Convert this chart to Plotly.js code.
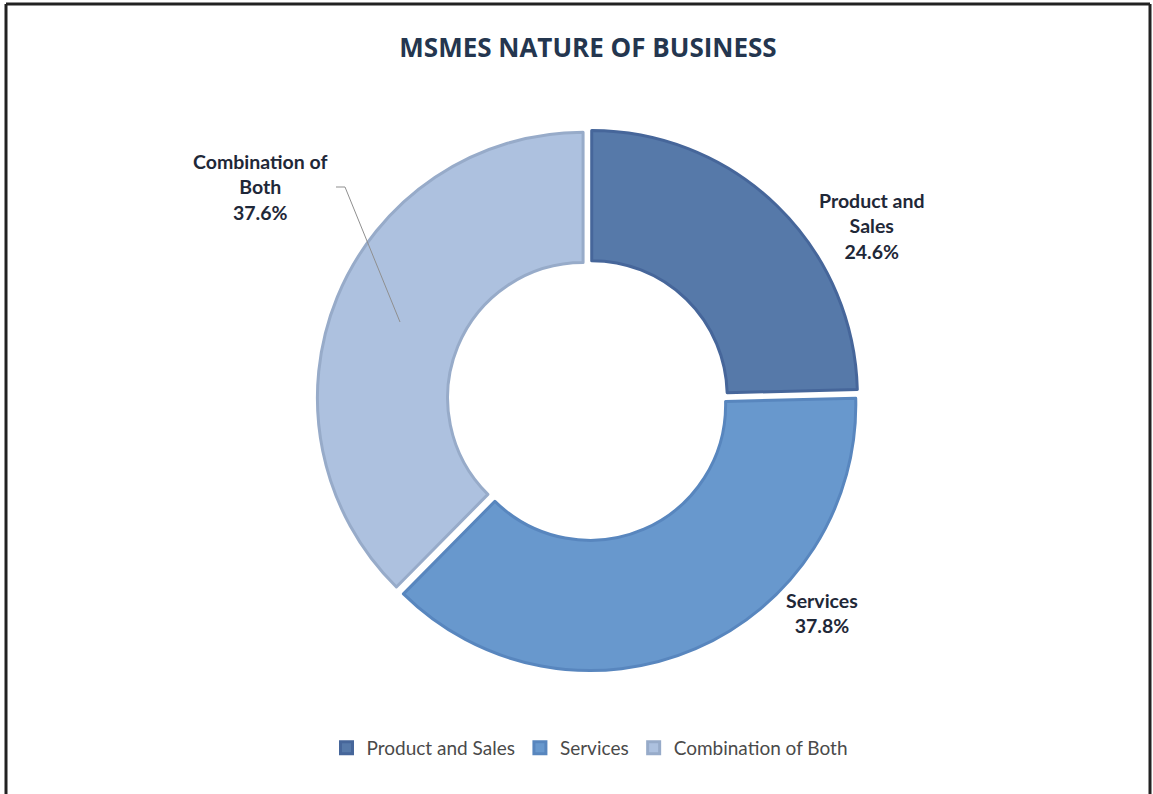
<!DOCTYPE html>
<html>
<head>
<meta charset="utf-8">
<script src="https://cdn.plot.ly/plotly-3.0.1.min.js"></script>
<style>
  html, body { margin: 0; padding: 0; background: #ffffff; }
  #chart { width: 1153px; height: 794px; }
</style>
</head>
<body>
<div id="chart"></div>
<script>
// ---- data ----
const categories = ["Product and Sales", "Services", "Combination of Both"];
const shares = [24.6, 37.8, 37.6];
const labelLines = [["Product and", "Sales"], ["Services"], ["Combination of", "Both"]];
const chartTitle = "MSMES NATURE OF BUSINESS";

// ---- styles ----
const fillColors = ["#5679a9", "#6898cd", "#adc1df"];
const edgeColors = ["#46669a", "#5886be", "#97abc9"];
const labelPos = [
  { x: 872 / 1153, y: 1 - 226 / 794 },
  { x: 822 / 1153, y: 1 - 613 / 794 },
  { x: 260 / 1153, y: 1 - 187 / 794 }
];

const cx = 588, cy = 400, R = 271;
const W = 1153, H = 794;

const trace = {
  type: "pie",
  labels: categories,
  values: shares,
  hole: 0.51,
  sort: false,
  direction: "clockwise",
  rotation: 0,
  pull: [0.02, 0.02, 0.02],
  textinfo: "none",
  hoverinfo: "label+percent",
  marker: { colors: fillColors, line: { color: edgeColors, width: 3 } },
  domain: { x: [(cx - R) / W, (cx + R) / W], y: [1 - (cy + R) / H, 1 - (cy - R) / H] }
};

const annotations = categories.map((c, i) => ({
  xref: "paper", yref: "paper",
  x: labelPos[i].x, y: labelPos[i].y,
  xanchor: "center", yanchor: "middle",
  showarrow: false,
  align: "center",
  text: labelLines[i].map(s => "<b>" + s + "</b>").join("<br>") + "<br><b>" + shares[i].toFixed(1) + "%</b>",
  font: { family: "Lato, 'Open Sans', sans-serif", size: 19.5, color: "#1f2838" }
}));

const layout = {
  width: W, height: H,
  margin: { l: 0, r: 0, t: 0, b: 0 },
  paper_bgcolor: "#ffffff",
  title: {
    text: "<b>" + chartTitle + "</b>",
    x: 588 / W, xanchor: "center",
    y: 1 - 48 / H, yanchor: "middle",
    font: { family: "'Open Sans', Lato, sans-serif", size: 26, color: "#24364f" }
  },
  showlegend: true,
  legend: {
    orientation: "h",
    x: 590 / W, xanchor: "center",
    y: 1 - 748 / H, yanchor: "middle",
    font: { family: "Lato, 'Open Sans', sans-serif", size: 19, color: "#4a4a4a" },
    itemwidth: 30,
    traceorder: "normal"
  },
  annotations: annotations,
  shapes: [
    { type: "path", xref: "paper", yref: "paper",
      path: "M " + (336 / W) + " " + (1 - 187 / H) + " L " + (345 / W) + " " + (1 - 187 / H) + " L " + (400 / W) + " " + (1 - 322 / H),
      line: { color: "#8f8f8f", width: 1 } },
    { type: "line", xref: "paper", yref: "paper", x0: 6 / W, x1: 6 / W, y0: 0, y1: 1 - 4 / H, line: { color: "#222", width: 3 } },
    { type: "line", xref: "paper", yref: "paper", x0: 6 / W, x1: 1150 / W, y0: 1 - 4 / H, y1: 1 - 4 / H, line: { color: "#222", width: 3 } },
    { type: "line", xref: "paper", yref: "paper", x0: 1150 / W, x1: 1150 / W, y0: 0, y1: 1 - 4 / H, line: { color: "#222", width: 3 } }
  ]
};

Plotly.newPlot("chart", [trace], layout, { displayModeBar: false, staticPlot: true });
</script>
</body>
</html>
